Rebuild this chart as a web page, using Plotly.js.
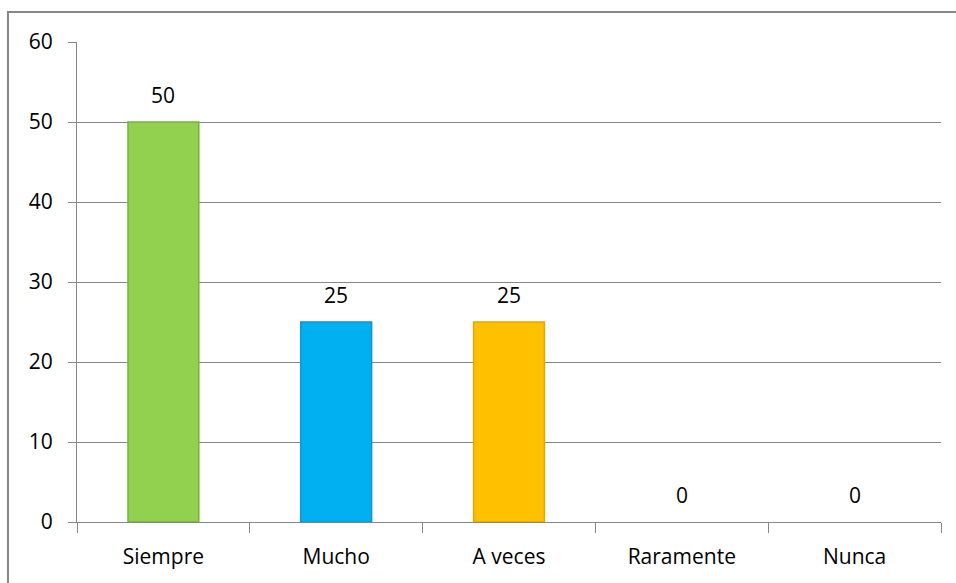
<!DOCTYPE html>
<html>
<head>
<meta charset="utf-8">
<script src="https://cdn.plot.ly/plotly-3.0.1.min.js"></script>
<style>html,body{margin:0;padding:0;background:#fff;}#chart{width:956px;height:583px;}</style>
</head>
<body>
<div id="chart"></div>
<script>
const categories = ["Siempre", "Mucho", "A veces", "Raramente", "Nunca"];
const values = [50, 25, 25, 0, 0];
const barColors = ["#92D050", "#00B0F0", "#FFC000", "#C0504D", "#8064A2"];
const edgeColors = ["#76B33A", "#0A96CC", "#E0A800", "#A0403D", "#6A5090"];
const yTicks = [0, 10, 20, 30, 40, 50, 60];

const fontFam = "'Open Sans', sans-serif";
const fs = 21;

const trace = {
  type: "bar",
  x: categories,
  y: values,
  marker: {color: barColors, line: {color: edgeColors, width: values.map(v => v > 0 ? 1.5 : 0)}},
  width: 0.41,
  hoverinfo: "x+y",
  cliponaxis: false
};

const annotations = categories.map((c, i) => ({
  x: c, y: values[i], xref: "x", yref: "y",
  text: String(values[i]), showarrow: false,
  yanchor: "bottom", yshift: 11,
  font: {family: fontFam, size: fs, color: "#000"}
}));

const layout = {
  width: 956, height: 583,
  margin: {l: 77, r: 15, t: 42, b: 61},
  paper_bgcolor: "#fff", plot_bgcolor: "#fff",
  showlegend: false,
  font: {family: fontFam, size: fs, color: "#000"},
  xaxis: {
    type: "category",
    showline: true, linecolor: "#868686", linewidth: 1,
    ticks: "outside", tickson: "boundaries", ticklen: 10, tickcolor: "#868686",
    showgrid: false, zeroline: false,
    ticklabelstandoff: 16,
    tickfont: {family: fontFam, size: fs, color: "#000"}
  },
  yaxis: {
    range: [0, 60], tickvals: yTicks,
    showline: true, linecolor: "#868686", linewidth: 1,
    ticks: "outside", ticklen: 8, tickcolor: "#868686",
    showgrid: true, gridcolor: "#868686", gridwidth: 1,
    zeroline: false,
    ticklabelstandoff: 11,
    tickfont: {family: fontFam, size: fs, color: "#000"}
  },
  annotations: annotations,
  shapes: [{
    type: "path", xref: "paper", yref: "paper",
    path: "M -0.0799,-0.2 L -0.0799,1.0625 L 1.1,1.0625",
    line: {color: "#868686", width: 2}
  }]
};

Plotly.newPlot("chart", [trace], layout, {displayModeBar: false, staticPlot: true});
</script>
</body>
</html>
